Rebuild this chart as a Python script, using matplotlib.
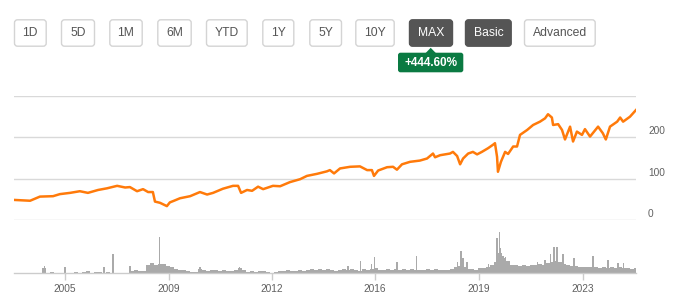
import numpy as np
import matplotlib
matplotlib.use("Agg")
import matplotlib.pyplot as plt
from matplotlib.patches import FancyBboxPatch, Polygon

# ---------------- data ----------------
price_years = [2003.93, 2004.47, 2004.80, 2005.24, 2005.47, 2005.81, 2006.14, 2006.41, 2006.75,
               2007.05, 2007.39, 2007.66, 2007.82, 2008.06, 2008.26, 2008.43, 2008.59, 2008.66,
               2008.83, 2009.06, 2009.16, 2009.30, 2009.50, 2009.84, 2010.17, 2010.41, 2010.61,
               2010.94, 2011.28, 2011.45, 2011.55, 2011.75, 2011.92, 2012.12, 2012.29, 2012.62,
               2012.86, 2013.19, 2013.53, 2013.76, 2014.10, 2014.43, 2014.53, 2014.67, 2014.87,
               2015.21, 2015.54, 2015.78, 2015.94, 2016.01, 2016.15, 2016.45, 2016.65, 2016.78,
               2016.95, 2017.22, 2017.55, 2017.79, 2017.99, 2018.06, 2018.23, 2018.56, 2018.66,
               2018.80, 2018.90, 2019.00, 2019.17, 2019.33, 2019.47, 2019.63, 2019.84, 2020.00,
               2020.07, 2020.14, 2020.17, 2020.27, 2020.41, 2020.51, 2020.68, 2020.81, 2020.91,
               2021.15, 2021.35, 2021.58, 2021.75, 2021.85, 2021.98, 2022.02, 2022.19, 2022.32,
               2022.42, 2022.59, 2022.69, 2022.82, 2022.99, 2023.09, 2023.26, 2023.53, 2023.69,
               2023.79, 2023.93, 2024.17, 2024.27, 2024.37, 2024.60, 2024.80]
price_values = [49, 47, 57, 58, 63, 66, 70, 66, 73,
                77, 83, 79, 80, 70, 75, 68, 68, 45,
                42, 34, 43, 47, 53, 58, 68, 62, 66,
                76, 83, 83, 66, 73, 71, 81, 75, 83,
                82, 92, 99, 107, 112, 118, 121, 113, 125,
                129, 130, 121, 121, 107, 120, 128, 129, 122,
                135, 141, 144, 149, 161, 152, 157, 161, 165,
                155, 135, 149, 161, 165, 159, 165, 174, 182,
                186, 153, 117, 141, 165, 160, 178, 178, 206,
                218, 230, 238, 246, 256, 248, 230, 232, 218,
                195, 226, 190, 214, 206, 220, 202, 226, 210,
                195, 226, 238, 248, 238, 250, 266]

vol_start = 2003.93
vol_step = 0.1342
vol_base = [0, 0, 0, 0, 0, 0, 0, 5, 0, 1, 0, 0, 0, 0, 0, 1, 0, 1, 2, 0,
            1, 1, 0, 1, 0, 0, 0, 0, 0, 2, 3, 2, 2, 8, 10, 8, 9, 9, 7, 6,
            4, 3, 3, 2, 1, 1, 4, 3, 2, 3, 3, 2, 3, 2, 2, 3, 5, 3, 1, 2,
            1, 2, 2, 1, 0, 1, 2, 2, 3, 2, 2, 3, 2, 3, 4, 3, 4, 3, 4, 3,
            2, 3, 4, 3, 4, 3, 2, 4, 3, 4, 5, 3, 3, 4, 3, 4, 3, 4, 3, 4,
            3, 3, 3, 4, 3, 4, 3, 3, 3, 4, 6, 7, 6, 4, 4, 3, 5, 5, 6, 8,
            11, 20, 15, 12, 8, 8, 7, 8, 7, 8, 8, 9, 8, 10, 11, 12, 11, 9, 8, 7,
            7, 6, 6, 6, 6, 6, 5, 6, 5, 6, 5, 6, 5, 5, 4, 5]
spike_years = [2004.94, 2005.64, 2006.95, 2007.25, 2007.82, 2008.80, 2010.17, 2011.51,
               2015.14, 2015.57, 2015.94, 2016.04, 2016.78, 2017.45, 2018.80, 2018.93,
               2019.00, 2019.13, 2019.84, 2020.14, 2020.21, 2020.24, 2020.34, 2020.41,
               2021.51, 2021.75, 2021.92, 2022.05, 2022.15, 2022.35, 2022.72, 2023.36,
               2023.86, 2024.20, 2024.37]
spike_values = [7.3, 6.7, 6.3, 19.3, 7.3, 36.3, 6, 6,
                7.7, 12, 9, 16, 11, 17.7, 11.7, 22.7,
                15, 11, 9, 35.7, 41, 25, 17.3, 16.7,
                11, 13, 19, 26.7, 26.7, 19, 15.7, 17.3,
                13, 10.7, 10]

x_tick_years = [2005.64, 2009.13, 2012.59, 2016.05, 2019.54, 2023.03]
x_tick_labels = ["2005", "2009", "2012", "2016", "2019", "2023"]
y_ticks = [0, 100, 200]
grid_levels = [0, 100, 200, 300]

buttons = ["1D", "5D", "1M", "6M", "YTD", "1Y", "5Y", "10Y", "MAX", "Basic", "Advanced"]
active = ["MAX", "Basic"]
change_label = "+444.60%"

# ---------------- layout ----------------
W, H = 678, 307
plt.rcParams['font.family'] = ['Liberation Sans', 'DejaVu Sans']
fig = plt.figure(figsize=(W / 100, H / 100), dpi=100)
fig.patch.set_facecolor('white')

def fx(px):
    return px / W

def fy(py):
    return 1 - py / H

X0, X1 = 14, 636
TOP, ZERO, BASE = 96, 220.2, 273.3
xlim = (2003.93, 2003.93 + (X1 - X0) / 29.8)

# price axes
ax = fig.add_axes([fx(X0), fy(ZERO), (X1 - X0) / W, (ZERO - TOP) / H])
ax.set_xlim(*xlim)
ax.set_ylim(0, 300)
for g in grid_levels:
    ax.axhline(g, color='#d9d9d9', lw=1.0, zorder=0)
ax.plot(price_years, price_values, color='#ff7a0a', lw=1.8, solid_joinstyle='round', zorder=3)
for s in ax.spines.values():
    s.set_visible(False)
ax.set_xticks([])
ax.set_yticks([])
ax.patch.set_alpha(0)
for v in y_ticks:
    ax.annotate(str(v), xy=(1, v), xycoords=('axes fraction', 'data'),
                xytext=(12, 6), textcoords='offset pixels', ha='left', va='center',
                fontsize=7.3, color='#606060')

# volume axes
vax = fig.add_axes([fx(X0), fy(BASE), (X1 - X0) / W, (BASE - ZERO) / H])
vax.set_xlim(*xlim)
vax.set_ylim(0, BASE - ZERO)
vol_years = vol_start + vol_step * np.arange(len(vol_base))
vax.bar(vol_years, vol_base, width=vol_step, align='edge', color='#aaaaaa', lw=0)
vax.bar(spike_years, spike_values, width=0.04, color='#aaaaaa', lw=0)
for s in ['top', 'left', 'right']:
    vax.spines[s].set_visible(False)
vax.spines['bottom'].set_color('#cccccc')
vax.spines['bottom'].set_linewidth(1.0)
vax.set_yticks([])
vax.set_xticks(x_tick_years)
vax.set_xticklabels(x_tick_labels)
vax.tick_params(axis='x', length=5, width=1, color='#cccccc', pad=2.5,
                labelsize=7.3, labelcolor='#606060')
vax.patch.set_alpha(0)

# overlay for buttons
ov = fig.add_axes([0, 0, 1, 1], zorder=10)
ov.set_xlim(0, W)
ov.set_ylim(H, 0)
ov.axis('off')
ov.patch.set_alpha(0)

box_left = [14, 61, 109.3, 157.3, 206, 262.3, 309.3, 355.3, 409, 465, 524]
box_right = [46.7, 95, 142.7, 191.7, 247.7, 294.3, 342, 394.7, 453, 511.7, 595.7]
by0, by1 = 19.3, 46.7
for lab, l, r in zip(buttons, box_left, box_right):
    on = lab in active
    p = FancyBboxPatch((l + 0.5, by0 + 0.5), r - l - 1, by1 - by0 - 1,
                       boxstyle='round,pad=0,rounding_size=3',
                       fc='#555555' if on else 'white',
                       ec='#555555' if on else '#d4d4d4', lw=1.0)
    ov.add_patch(p)
    ov.text((l + r) / 2, (by0 + by1) / 2 + 0.5, lab, ha='center', va='center',
            fontsize=8.7, color='white' if on else '#555555')

# badge
bl, br, bt, bb = 398, 463.3, 52.7, 72.3
ov.add_patch(FancyBboxPatch((bl, bt), br - bl, bb - bt,
                            boxstyle='round,pad=0,rounding_size=2.5',
                            fc='#0a7a42', ec='none'))
ov.add_patch(Polygon([(425.5, bt + 0.5), (430.7, 47.8), (436, bt + 0.5)],
                     closed=True, fc='#0a7a42', ec='none'))
ov.text((bl + br) / 2, (bt + bb) / 2 + 0.5, change_label, ha='center', va='center',
        fontsize=8.5, color='white', fontweight='bold')

fig.savefig('out.png', dpi=100, facecolor='white')
